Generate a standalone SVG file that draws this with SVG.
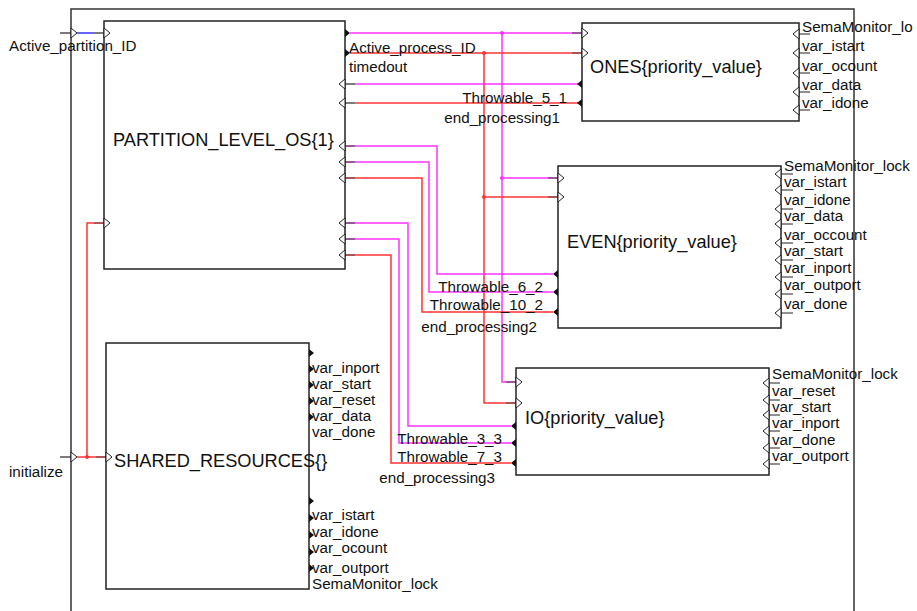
<svg xmlns="http://www.w3.org/2000/svg" width="917" height="611" viewBox="0 0 917 611">
<style>
.frame{fill:none;stroke:#333;stroke-width:1.5}
.box{fill:#fff;stroke:#222;stroke-width:1.5}
.t{font-family:"Liberation Sans",Arial,sans-serif;font-size:15.2px;fill:#111}
.big{font-size:18.2px}
.in{fill:#fff;stroke:#222;stroke-width:1}
.out{fill:#111;stroke:none}
.stub{stroke:#222;stroke-width:1.2;fill:none}
.m{stroke:#ff33ff;stroke-width:1.5;fill:none}
.r{stroke:#ff3333;stroke-width:1.5;fill:none}
.dm{stroke:#7a1f7a;stroke-width:1.5;fill:none}
.dr{stroke:#8a1f1f;stroke-width:1.5;fill:none}
.b{stroke:#3333ff;stroke-width:1.5;fill:none}
.k{stroke:#222;stroke-width:1.2;fill:none}
</style>
<defs>
<polygon id="inR" class="in" points="0,-5 6,0 0,5"/>
<polygon id="inL" class="in" points="0,-5 -6,0 0,5"/>
<polygon id="outR" class="out" points="0,-4 5,0 0,4"/>
<polygon id="outL" class="out" points="0,-4 -5,0 0,4"/>
</defs>
<rect class="frame" x="71" y="9" width="783" height="640"/>
<g id="connectors">
<path class="k" d="M60,33H71"/>
<path class="b" d="M77,33H94"/>
<path class="k" d="M94,33H104"/>
<path class="k" d="M60,457H71"/>
<path class="r" d="M77,457H96"/>
<path class="dr" d="M96,457H106"/>
<path class="r" d="M87,457V223H94"/>
<path class="dr" d="M94,223H104"/>
<circle cx="87" cy="457" r="2" fill="#ff3333"/>
<path class="m" d="M350,33H572"/>
<path class="dm" d="M572,33H582"/>
<path class="m" d="M502,33V382H506"/>
<path class="dm" d="M506,382H516"/>
<path class="m" d="M502,178H548"/>
<path class="dm" d="M548,178H558"/>
<circle cx="502" cy="33" r="2" fill="#ff33ff"/>
<circle cx="502" cy="178" r="2" fill="#ff33ff"/>
<path class="r" d="M350,53H572"/>
<path class="dr" d="M572,53H582"/>
<path class="r" d="M484,53V403H506"/>
<path class="dr" d="M506,403H516"/>
<path class="r" d="M484,197H548"/>
<path class="dr" d="M548,197H558"/>
<circle cx="484" cy="53" r="2" fill="#ff3333"/>
<circle cx="484" cy="197" r="2" fill="#ff3333"/>
<path class="m" d="M355,84H578"/>
<path class="k" d="M345,84H355"/>
<path class="r" d="M355,103H578"/>
<path class="k" d="M345,103H355"/>
<path class="m" d="M355,146H437V274H553"/>
<path class="dm" d="M345,146H355"/>
<path class="m" d="M355,162H429V292H553"/>
<path class="dm" d="M345,162H355"/>
<path class="r" d="M355,178H422V312H553"/>
<path class="dr" d="M345,178H355"/>
<path class="m" d="M355,223H408V426H511"/>
<path class="dm" d="M345,223H355"/>
<path class="m" d="M355,239H399V443H511"/>
<path class="dm" d="M345,239H355"/>
<path class="r" d="M355,255H391V463H511"/>
<path class="dr" d="M345,255H355"/>
</g>
<g id="partition">
<rect class="box" x="104" y="21" width="241" height="248"/>
<text class="t big" x="113" y="146">PARTITION_LEVEL_OS{1}</text>
<use href="#inR" x="104" y="33"/>
<use href="#inR" x="104" y="223"/>
<use href="#outR" x="345" y="33"/>
<use href="#outR" x="345" y="53"/>
<use href="#inL" x="345" y="84"/>
<use href="#inL" x="345" y="103"/>
<use href="#inL" x="345" y="146"/>
<use href="#inL" x="345" y="162"/>
<use href="#inL" x="345" y="178"/>
<use href="#inL" x="345" y="223"/>
<use href="#inL" x="345" y="239"/>
<use href="#inL" x="345" y="255"/>
<text class="t" x="349" y="53">Active_process_ID</text>
<text class="t" x="349" y="72">timedout</text>
</g>
<g id="ones">
<rect class="box" x="582" y="23" width="217" height="98"/>
<text class="t big" x="590" y="73">ONES{priority_value}</text>
<use href="#inR" x="582" y="33"/>
<use href="#inR" x="582" y="53"/>
<use href="#outL" x="582" y="84"/>
<use href="#outL" x="582" y="103"/>
<text class="t" x="567" y="103" text-anchor="end">Throwable_5_1</text>
<text class="t" x="560" y="123" text-anchor="end">end_processing1</text>
<path class="stub" d="M799,34H810M799,53H810M799,73H810M799,92H810M799,110H810"/>
<use href="#inL" x="799" y="34"/>
<use href="#inL" x="799" y="53"/>
<use href="#inL" x="799" y="73"/>
<use href="#inL" x="799" y="92"/>
<use href="#inL" x="799" y="110"/>
<text class="t" x="802" y="32">SemaMonitor_lo</text>
<text class="t" x="802" y="51">var_istart</text>
<text class="t" x="802" y="71">var_ocount</text>
<text class="t" x="802" y="90">var_data</text>
<text class="t" x="802" y="108">var_idone</text>
</g>
<g id="even">
<rect class="box" x="558" y="166" width="223" height="162"/>
<text class="t big" x="567" y="248">EVEN{priority_value}</text>
<use href="#inR" x="558" y="178"/>
<use href="#inR" x="558" y="197"/>
<use href="#outL" x="558" y="274"/>
<use href="#outL" x="558" y="292"/>
<use href="#outL" x="558" y="312"/>
<text class="t" x="543" y="292" text-anchor="end">Throwable_6_2</text>
<text class="t" x="543" y="310" text-anchor="end">Throwable_10_2</text>
<text class="t" x="537" y="332" text-anchor="end">end_processing2</text>
<path class="stub" d="M781,174H793M781,190H793M781,209H793M781,224H793M781,243H793M781,260H793M781,277H793M781,294H793M781,313H793"/>
<use href="#inL" x="781" y="174"/>
<use href="#inL" x="781" y="190"/>
<use href="#inL" x="781" y="209"/>
<use href="#inL" x="781" y="224"/>
<use href="#inL" x="781" y="243"/>
<use href="#inL" x="781" y="260"/>
<use href="#inL" x="781" y="277"/>
<use href="#inL" x="781" y="294"/>
<use href="#inL" x="781" y="313"/>
<text class="t" x="784" y="171">SemaMonitor_lock</text>
<text class="t" x="784" y="187">var_istart</text>
<text class="t" x="784" y="205">var_idone</text>
<text class="t" x="784" y="221">var_data</text>
<text class="t" x="784" y="240">var_occount</text>
<text class="t" x="784" y="256">var_start</text>
<text class="t" x="784" y="273">var_inport</text>
<text class="t" x="784" y="290">var_outport</text>
<text class="t" x="784" y="309">var_done</text>
</g>
<g id="io">
<rect class="box" x="516" y="368" width="253" height="107"/>
<text class="t big" x="525" y="424">IO{priority_value}</text>
<use href="#inR" x="516" y="382"/>
<use href="#inR" x="516" y="403"/>
<use href="#outL" x="516" y="426"/>
<use href="#outL" x="516" y="443"/>
<use href="#outL" x="516" y="463"/>
<text class="t" x="502" y="444" text-anchor="end">Throwable_3_3</text>
<text class="t" x="502" y="462" text-anchor="end">Throwable_7_3</text>
<text class="t" x="495" y="483" text-anchor="end">end_processing3</text>
<path class="stub" d="M769,383H780M769,400H780M769,415H780M769,431H780M769,448H780M769,464H780"/>
<use href="#inL" x="769" y="383"/>
<use href="#inL" x="769" y="400"/>
<use href="#inL" x="769" y="415"/>
<use href="#inL" x="769" y="431"/>
<use href="#inL" x="769" y="448"/>
<use href="#inL" x="769" y="464"/>
<text class="t" x="772" y="379">SemaMonitor_lock</text>
<text class="t" x="772" y="396">var_reset</text>
<text class="t" x="772" y="412">var_start</text>
<text class="t" x="772" y="428">var_inport</text>
<text class="t" x="772" y="445">var_done</text>
<text class="t" x="772" y="461">var_outport</text>
</g>
<g id="shared">
<rect class="box" x="106" y="343" width="203" height="246"/>
<text class="t big" x="114" y="467">SHARED_RESOURCES{}</text>
<use href="#inR" x="106" y="457"/>
<use href="#outR" x="309" y="353"/>
<use href="#outR" x="309" y="369"/>
<use href="#outR" x="309" y="385"/>
<use href="#outR" x="309" y="401"/>
<use href="#outR" x="309" y="417"/>
<use href="#outR" x="309" y="501"/>
<use href="#outR" x="309" y="518"/>
<use href="#outR" x="309" y="535"/>
<use href="#outR" x="309" y="552"/>
<use href="#outR" x="309" y="568"/>
<text class="t" x="312" y="373">var_inport</text>
<text class="t" x="312" y="389">var_start</text>
<text class="t" x="312" y="405">var_reset</text>
<text class="t" x="312" y="421">var_data</text>
<text class="t" x="312" y="437">var_done</text>
<text class="t" x="312" y="520">var_istart</text>
<text class="t" x="312" y="537">var_idone</text>
<text class="t" x="312" y="553">var_ocount</text>
<text class="t" x="312" y="573">var_outport</text>
<text class="t" x="312" y="589">SemaMonitor_lock</text>
</g>
<g id="frame-ports">
<use href="#inR" x="71" y="33"/>
<use href="#inR" x="71" y="457"/>
<text class="t" x="9" y="51">Active_partition_ID</text>
<text class="t" x="9" y="477">initialize</text>
</g>
</svg>
